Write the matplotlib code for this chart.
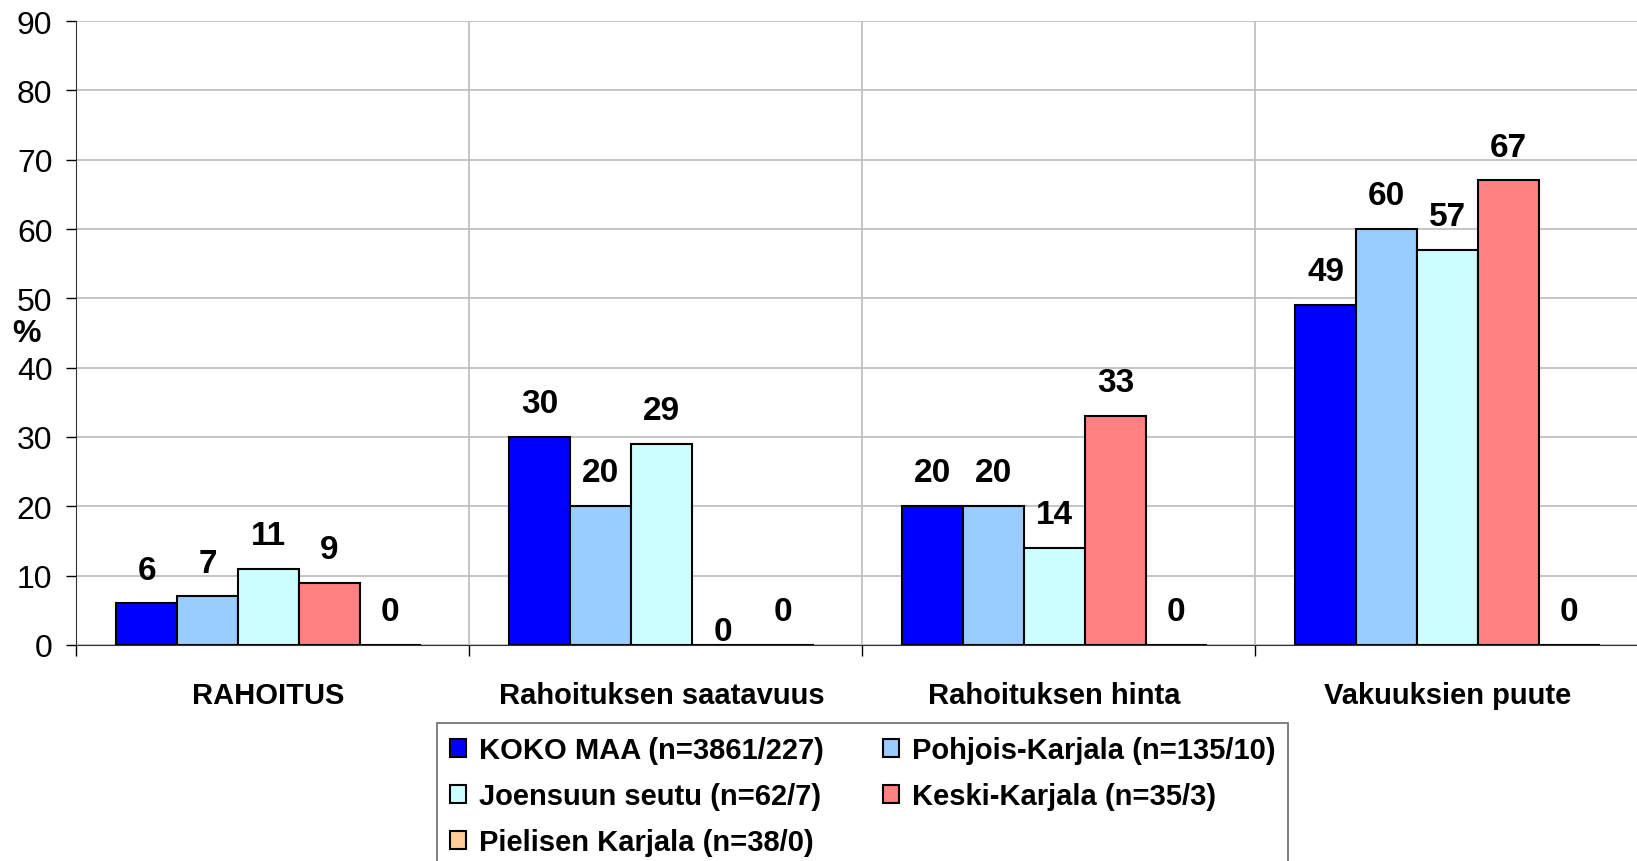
import matplotlib
matplotlib.use('Agg')
import matplotlib.pyplot as plt
import numpy as np

plt.rcParams['font.family'] = ['Liberation Sans', 'DejaVu Sans']

# data
categories = ['RAHOITUS', 'Rahoituksen saatavuus', 'Rahoituksen hinta', 'Vakuuksien puute']
series_names = ['KOKO MAA (n=3861/227)', 'Pohjois-Karjala (n=135/10)',
                'Joensuun seutu (n=62/7)', 'Keski-Karjala (n=35/3)',
                'Pielisen Karjala (n=38/0)']
koko_maa = [6, 30, 20, 49]
pohjois_karjala = [7, 20, 20, 60]
joensuu = [11, 29, 14, 57]
keski_karjala = [9, 0, 33, 67]
pielisen_karjala = [0, 0, 0, 0]
y_ticks = [0, 10, 20, 30, 40, 50, 60, 70, 80, 90]

series = [koko_maa, pohjois_karjala, joensuu, keski_karjala, pielisen_karjala]
colors = ['#0000FF', '#99CCFF', '#CCFFFF', '#FF8080', '#FFCC99']

fig = plt.figure(figsize=(16.37, 8.62), dpi=100)
ax = fig.add_axes([76/1637, 216/862, 1572/1637, 624/862])

w = 0.155
x = np.arange(len(categories)) + 0.49
bars = []
for i, vals in enumerate(series):
    pos = x + (i - 2) * w
    b = ax.bar(pos, vals, width=w, color=colors[i], edgecolor='black',
               linewidth=1.5, label=series_names[i], zorder=3)
    bars.append(b)
    for g, v in enumerate(vals):
        off = 24
        # excel put this one lower
        if g == 1 and i == 3:
            off = 10
        ax.annotate(str(v), (pos[g], v), xytext=(0, off), textcoords='offset points',
                    ha='center', va='center', fontsize=24, fontweight='bold')

ax.set_xlim(0, 4)
ax.set_ylim(0, 90)
ax.set_yticks(y_ticks)
ax.tick_params(axis='y', labelsize=23, length=7, width=1, pad=10, direction='out')

ax.set_xticks(x)
ax.set_xticklabels(categories, fontsize=21, fontweight='bold')
ax.tick_params(axis='x', which='major', length=0, pad=26)
ax.set_xticks([0, 1, 2, 3, 4], minor=True)
ax.tick_params(axis='x', which='minor', length=8, width=1, direction='out')

ax.grid(axis='y', color='#c0c0c0', linewidth=1.3, zorder=0)
ax.grid(axis='x', which='minor', color='#c0c0c0', linewidth=1.3, zorder=0)
ax.set_axisbelow(True)

for s in ['top', 'right']:
    ax.spines[s].set_visible(False)
ax.spines['left'].set_color('#333333')
ax.spines['bottom'].set_color('#333333')

fig.text(26/1637, 1 - 334/862, '%', fontsize=23, fontweight='bold', ha='center', va='center')

# row-wise order like excel
order = [0, 2, 4, 1, 3]
leg = fig.legend([bars[k] for k in order], [series_names[k] for k in order],
                 loc='upper left', bbox_to_anchor=(437/1637, 1 - 724/862), ncol=2,
                 prop={'size': 21, 'weight': 'bold'}, frameon=True, fancybox=False,
                 edgecolor='#444444', handlelength=0.55, handleheight=0.55,
                 handletextpad=0.45, columnspacing=2.0, labelspacing=0.62,
                 borderpad=0.45, borderaxespad=0)
leg.get_frame().set_linewidth(1.2)

fig.savefig('out.png', dpi=100)
